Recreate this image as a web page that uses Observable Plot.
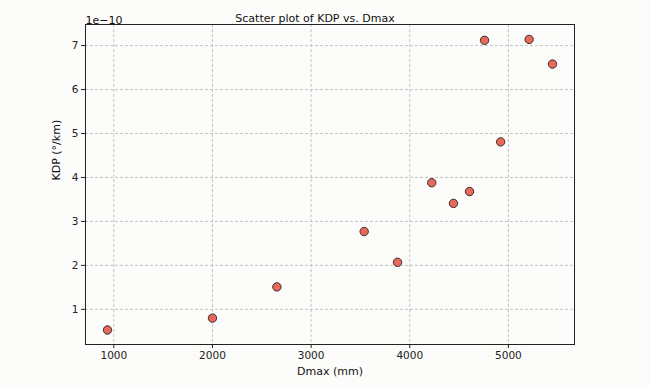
<!DOCTYPE html>
<html><head><meta charset="utf-8">
<script src="https://cdn.jsdelivr.net/npm/d3@7"></script>
<script src="https://cdn.jsdelivr.net/npm/@observablehq/plot@0.6"></script>
<style>html,body{margin:0;padding:0;background:#fcfcfa}</style>
</head><body><div id="chart"></div>
<script>
const dmax = [936, 2000, 2653, 3538, 3876, 4223, 4443, 4606, 4758, 4921, 5210, 5447];
const kdp = [0.53e-10, 0.80e-10, 1.51e-10, 2.77e-10, 2.07e-10, 3.88e-10, 3.41e-10, 3.68e-10, 7.12e-10, 4.81e-10, 7.14e-10, 6.58e-10];
const xTicks = [1000, 2000, 3000, 4000, 5000];
const yTicks = [1e-10, 2e-10, 3e-10, 4e-10, 5e-10, 6e-10, 7e-10];
const title = "Scatter plot of KDP vs. Dmax";
const xLabel = "Dmax (mm)";
const yLabel = "KDP (°/km)";
const offsetText = "1e\u221210";

const data = dmax.map((d, i) => ({dmax: d, kdp: kdp[i]}));
const font = "DejaVu Sans, sans-serif";

const chart = Plot.plot({
  width: 650, height: 387,
  marginLeft: 85, marginRight: 76, marginTop: 24, marginBottom: 43,
  style: {background: "#fcfcfa", fontFamily: font, fontSize: "10px", color: "#222", overflow: "visible"},
  x: {domain: [713, 5670], label: null},
  y: {domain: [0.2e-10, 7.48e-10], label: null},
  marks: [
    Plot.gridX(xTicks, {stroke: "#b5b5b5", strokeOpacity: 1, strokeDasharray: "3,2", strokeWidth: 0.8}),
    Plot.gridY(yTicks, {stroke: "#b5b5b5", strokeOpacity: 1, strokeDasharray: "3,2", strokeWidth: 0.8}),
    Plot.axisX(xTicks, {tickSize: 4, tickPadding: 3, label: null, stroke: "#222", fill: "#222", fontSize: 10.5, tickFormat: d => String(d)}),
    Plot.axisY(yTicks, {tickSize: 4, tickPadding: 3, label: null, stroke: "#222", fill: "#222", fontSize: 10.5, tickFormat: d => String(Math.round(d * 1e10))}),
    Plot.frame({stroke: "#222", strokeWidth: 1}),
    Plot.dot(data, {x: "dmax", y: "kdp", r: 4.2, fill: "#e8685a", stroke: "#222", strokeWidth: 0.9}),
    Plot.text([title], {frameAnchor: "top", dx: -15, dy: -10, fontSize: 11, fill: "#111"}),
    Plot.text([offsetText], {frameAnchor: "top-left", textAnchor: "start", dy: -8, fontSize: 11, fill: "#111"}),
    Plot.text([xLabel], {frameAnchor: "bottom", dy: 30, fontSize: 11, fill: "#111"}),
    Plot.text([yLabel], {frameAnchor: "left", dx: -29, dy: -4, rotate: -90, fontSize: 11, fill: "#111"})
  ]
});
document.getElementById("chart").appendChild(chart);
</script>
</body></html>
